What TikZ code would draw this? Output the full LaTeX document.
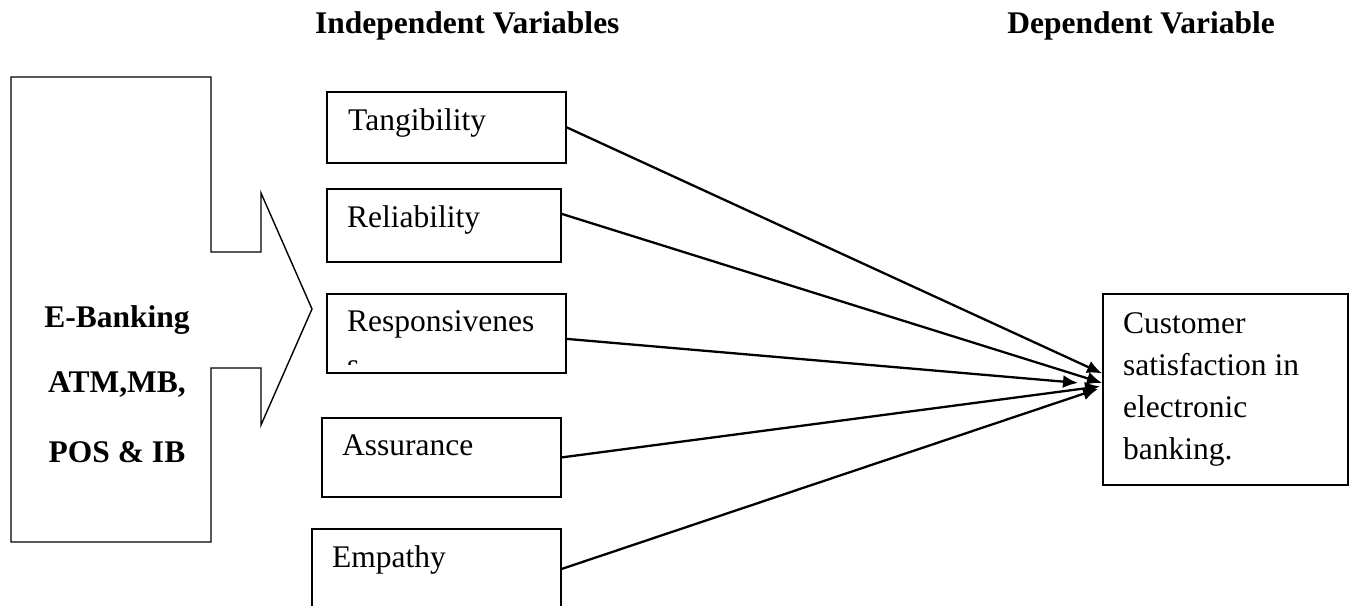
\documentclass[tikz,border=0pt]{standalone}
\usepackage{fontspec}
\setmainfont{Liberation Serif}
\usetikzlibrary{arrows.meta}
\begin{document}
\begin{tikzpicture}[x=1pt,y=-1pt,
  txt/.style={font=\fontsize{31.5}{38}\selectfont, inner sep=0pt},
  bold/.style={font=\fontsize{31.5}{38}\selectfont\bfseries, inner sep=0pt},
  box/.style={draw, line width=1.8pt, anchor=north west, inner sep=0pt},
  conn/.style={line width=2.3pt, -{Latex[length=15pt,width=13pt]}}]
\useasboundingbox (0,0) rectangle (1349,605);
\clip (0,0) rectangle (1349,605);

% headers
\node[bold, anchor=base west] (indep) at (315,33) {Independent Variables};
\node[bold, anchor=base east] (dep) at (1275,33) {Dependent Variable};

% left block arrow
\draw[line width=1.4pt] (11,77) -- (211,77) -- (211,252) -- (261,252) -- (261,193)
  -- (312,309) -- (261,425) -- (261,368) -- (211,368) -- (211,542) -- (11,542) -- cycle;
\node[bold, anchor=base] (eb) at (117,327) {E-Banking};
\node[bold, anchor=base] (atm) at (117,392) {ATM,MB,};
\node[bold, anchor=base] (pos) at (117,462) {POS \& IB};

% independent variable boxes
\node[box, minimum width=239pt, minimum height=71pt] (tang) at (326,91) {};
\node[box, minimum width=234pt, minimum height=73pt] (rel) at (326,188) {};
\node[box, minimum width=239pt, minimum height=79pt] (resp) at (326,293) {};
\node[box, minimum width=239pt, minimum height=79pt] (assu) at (321,417) {};
\node[box, minimum width=249pt, minimum height=120pt] (emp) at (311,528) {};

\node[txt, anchor=base west] (tangt) at (348,130) {Tangibility};
\node[txt, anchor=base west] (relt) at (347,227) {Reliability};
\node[txt, anchor=base west] (respt) at (347,331) {Responsivenes};
\begin{scope}
  \clip (330,340) rectangle (560,364);
  \node[txt, anchor=base west] (resps) at (347,375) {s};
\end{scope}
\node[txt, anchor=base west] (assut) at (342,455) {Assurance};
\node[txt, anchor=base west] (empt) at (332,567) {Empathy};

% dependent variable box
\node[box, minimum width=245pt, minimum height=191pt] (cs) at (1102,293) {};
\node[txt, anchor=base west] (cs1) at (1123,333) {Customer};
\node[txt, anchor=base west] (cs2) at (1123,375) {satisfaction in};
\node[txt, anchor=base west] (cs3) at (1123,417) {electronic};
\node[txt, anchor=base west] (cs4) at (1123,459) {banking.};

% connectors
\coordinate (e1) at ([yshift=16pt]cs.west);
\coordinate (e2) at ([yshift=6.5pt]cs.west);
\coordinate (e3) at ([xshift=-24pt,yshift=6.5pt]cs.west);
\coordinate (e4) at ([xshift=-2pt,yshift=3pt]cs.west);
\coordinate (e5) at ([xshift=-4pt,yshift=0.5pt]cs.west);
\draw[conn] (tang.east) -- (e1);
\draw[conn] ([yshift=11.5pt]rel.east) -- (e2);
\draw[conn] ([yshift=-5.5pt]resp.east) -- (e3);
\draw[conn] (assu.east) -- (e4);
\draw[conn] ([yshift=20pt]emp.east) -- (e5);
\end{tikzpicture}
\end{document}
